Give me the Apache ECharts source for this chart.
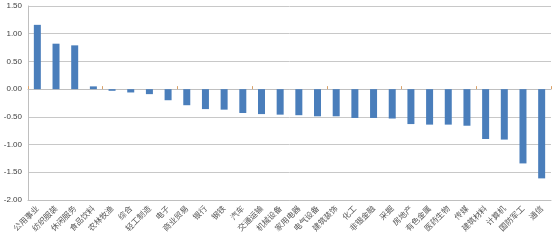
<!DOCTYPE html>
<html><head><meta charset="utf-8">
<script src="https://cdn.jsdelivr.net/npm/echarts@6/dist/echarts.min.js"></script>
<style>html,body{margin:0;padding:0;background:#fff}#c{width:556px;height:248px}</style>
</head><body><div id="c"></div>
<script>
const categories = ['公用事业','纺织服装','休闲服务','食品饮料','农林牧渔','综合','轻工制造','电子','商业贸易','银行','钢铁','汽车','交通运输','机械设备','家用电器','电气设备','建筑装饰','化工','非银金融','采掘','房地产','有色金属','医药生物','传媒','建筑材料','计算机','国防军工','通信'];
const values = [1.16,0.82,0.79,0.05,-0.03,-0.06,-0.09,-0.20,-0.29,-0.36,-0.37,-0.43,-0.45,-0.46,-0.47,-0.49,-0.49,-0.52,-0.52,-0.53,-0.63,-0.64,-0.64,-0.66,-0.90,-0.91,-1.34,-1.61];
const yTicks = {min:-2, max:1.5, interval:0.5};
const font = '"Noto Sans CJK SC", sans-serif';
const chart = echarts.init(document.getElementById('c'), null, {renderer:'canvas'});
chart.setOption({
  animation:false,
  grid:{left:28,right:5,top:6,bottom:48,containLabel:false},
  xAxis:[{
    type:'category', data:categories, position:'bottom',
    axisLine:{onZero:false, show:true, lineStyle:{color:'#bfbfbf'}},
    axisTick:{show:false},
    axisLabel:{rotate:45, interval:0, fontSize:8, color:'#595959', fontFamily:font, margin:7}
  },{
    type:'category', data:categories,
    axisLine:{onZero:true, show:true, lineStyle:{color:'#bfbfbf'}},
    axisTick:{show:true, length:3, lineStyle:{color:'#d9a066'}},
    axisLabel:{show:false}
  }],
  yAxis:{
    type:'value', min:yTicks.min, max:yTicks.max, interval:yTicks.interval,
    axisLine:{show:true, lineStyle:{color:'#bfbfbf'}},
    axisTick:{show:false},
    splitLine:{lineStyle:{color:'#c8c8c8'}},
    axisLabel:{formatter:v=>v.toFixed(2), fontSize:8, color:'#404040', fontFamily:'"Liberation Sans", sans-serif', margin:6}
  },
  series:[{
    type:'bar', data:values, barWidth:7,
    itemStyle:{color:'#4a7ebb'}
  }]
});
</script></body></html>
